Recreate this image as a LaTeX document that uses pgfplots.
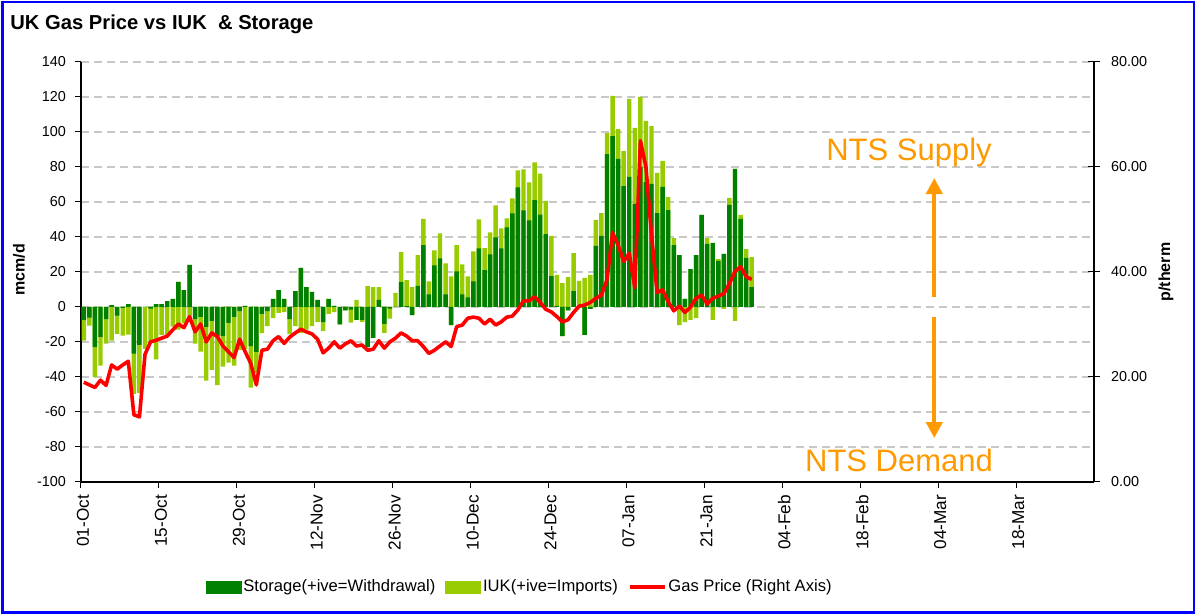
\documentclass[border=0pt]{standalone}
\usepackage{fontspec}
\setmainfont{Liberation Sans}
\usepackage{pgfplots}
\pgfplotsset{compat=1.18}
\usepackage{pgfplotstable}
\usetikzlibrary{arrows.meta}
\definecolor{sgreen}{HTML}{008000}
\definecolor{igreen}{HTML}{99CC00}
\definecolor{nts}{HTML}{FF9900}
\definecolor{framebl}{HTML}{0000FF}
\definecolor{gridc}{HTML}{C8C8C8}

% d = days after 01-Oct, s = storage (mcm/d), i = IUK (mcm/d), p = gas price (p/therm)
\pgfplotstableread{
d s i p
0 -7.4 -11.8 19.0
1 -6.1 -4.6 18.5
2 -22.9 -17.0 18.0
3 -17.1 -16.4 19.4
4 -6.9 -14.1 18.4
5 1.1 -19.2 22.3
6 -5.0 -10.3 21.5
7 -0.5 -15.8 22.3
8 1.7 -15.8 23.0
9 -26.7 -23.0 12.8
10 -21.7 -27.4 12.4
11 0 -24.0 24.3
12 -1.0 -19.0 26.7
13 1.7 -30.0 27.0
14 1.7 -16.0 27.4
15 3.4 -16.6 27.8
16 4.6 -11.2 29.0
17 14.3 -13.0 30.1
18 9.7 -9.3 29.4
19 24.0 -5.5 31.5
20 -7.0 -14.0 28.6
21 -5.7 -19.8 30.1
22 -11.4 -30.7 26.7
23 -8.0 -28.0 28.4
24 -16.6 -28.0 27.7
25 -16.6 -17.5 25.9
26 -9.1 -22.7 24.8
27 -5.7 -27.8 23.7
28 -2.3 -22.3 27.2
29 0.6 -24.0 24.8
30 -22.3 -23.8 22.6
31 -25.7 -12.0 18.5
32 -4.0 -11.0 25.1
33 -2.3 -8.6 25.3
34 4.6 -6.3 26.9
35 9.7 -3.4 27.7
36 4.6 -2.9 26.4
37 -6.9 -8.6 27.6
38 9.1 -10.9 28.4
39 22.3 -15.0 29.1
40 11.4 -13.0 28.6
41 8.6 -10.9 28.2
42 4.0 -8.6 27.2
43 -8.6 -5.1 24.6
44 4.6 -4.0 25.5
45 0.6 -2.9 26.7
46 -10.0 0 25.5
47 -2.0 0 26.3
48 -1.5 -7.5 26.9
49 -7.4 4.0 25.9
50 -7.4 -1.1 26.1
51 -22.9 12.0 25.1
52 -17.7 11.4 25.3
53 4.0 7.4 26.9
54 -9.7 -5.1 25.5
55 -1.0 -5.7 26.7
56 0 8.0 27.4
57 14.3 17.0 28.4
58 0.5 14.9 27.8
59 -4.6 11.4 26.9
60 12.0 17.7 26.9
61 35.4 14.9 25.8
62 7.2 7.4 24.5
63 23.8 8.6 25.1
64 27.8 14.3 25.9
65 7.2 17.7 26.7
66 -10.3 17.5 25.8
67 20.4 14.9 29.6
68 7.2 17.1 29.9
69 5.5 12.0 31.2
70 14.7 17.1 31.4
71 33.5 16.6 31.2
72 21.0 12.6 30.1
73 30.0 12.6 31.0
74 39.8 18.3 29.9
75 33.5 11.4 30.5
76 45.5 5.1 31.4
77 53.5 8.6 31.6
78 68.4 9.7 32.8
79 55.2 23.4 34.5
80 49.5 21.7 34.5
81 61.0 21.7 35.3
82 52.8 23.4 34.2
83 41.7 18.9 32.9
84 17.7 22.9 32.4
85 0.6 17.7 31.5
86 -16.6 13.7 30.5
87 -2.0 17.1 30.9
88 9.1 21.7 32.3
89 0 14.9 33.5
90 -16.0 16.6 33.7
91 -1.1 18.3 34.2
92 34.9 14.9 35.0
93 40.6 13.1 35.6
94 87.4 12.0 38.5
95 97.7 22.9 47.5
96 84.6 17.1 45.1
97 69.1 20.0 42.0
98 74.3 44.6 43.6
99 58.9 43.4 37.0
100 80.0 40.0 65.0
101 71.4 34.9 60.0
102 70.3 33.1 47.0
103 53.7 22.9 36.1
104 68.6 14.9 36.6
105 55.4 7.4 34.3
106 35.4 4.0 32.6
107 29.7 -10.3 33.5
108 4.6 -8.6 32.3
109 21.7 -7.4 33.3
110 29.7 -6.3 35.0
111 52.6 0 35.6
112 36.0 3.4 33.9
113 36.6 -7.4 35.0
114 26.3 1.1 35.4
115 30.3 -1.1 35.9
116 58.3 4.0 37.8
117 78.9 -8.0 40.1
118 50.3 2.3 41.0
119 28.0 5.1 39.1
120 11.4 17.1 38.6
}\gasdata

\begin{document}
\begin{tikzpicture}
\useasboundingbox (0,0) rectangle (599pt,307.5pt);
\draw[framebl, line width=1.1pt] (1.2pt,1.2pt) rectangle (596.8pt,306.3pt);
\node[anchor=west, inner sep=0pt, font=\bfseries\fontsize{10.1}{12}\selectfont] at (5pt,295.5pt) {UK Gas Price vs IUK \ \& Storage};

\begin{axis}[
  at={(40.5pt,66.5pt)}, anchor=south west,
  width=506.5pt, height=210pt, scale only axis,
  xmin=0, xmax=182, ymin=-100, ymax=140,
  axis x line*=bottom, axis y line*=left,
  axis line style={-, line width=0.6pt},
  xtick={0,14,...,168},
  xticklabels={01-Oct,15-Oct,29-Oct,12-Nov,26-Nov,10-Dec,24-Dec,07-Jan,21-Jan,04-Feb,18-Feb,04-Mar,18-Mar},
  ytick={-100,-80,...,140},
  tick align=outside, major tick length=3pt,
  tick style={black, line width=0.5pt},
  ymajorgrids,
  major grid style={gridc, dash pattern=on 4pt off 2.5pt, line width=0.55pt},
  /pgf/number format/assume math mode=true,
  yticklabel style={font=\fontsize{7.2}{8}\selectfont, xshift=-1pt},
  xticklabel style={font=\fontsize{8.6}{9}\selectfont, rotate=90, anchor=east, yshift=-1pt},
  clip=false,
]
\addplot[ybar, bar width=0.8, bar shift=0pt, fill=igreen, draw=none]
  table[x expr=\thisrow{d}+0.5, y expr={max(\thisrow{s},0)+max(\thisrow{i},0)}] {\gasdata};
\addplot[ybar, bar width=0.8, bar shift=0pt, fill=igreen, draw=none]
  table[x expr=\thisrow{d}+0.5, y expr={min(\thisrow{s},0)+min(\thisrow{i},0)}] {\gasdata};
\addplot[ybar, bar width=0.8, bar shift=0pt, fill=sgreen, draw=none]
  table[x expr=\thisrow{d}+0.5, y=s] {\gasdata};
\draw[nts, line width=2pt, -{Triangle[width=8pt,length=8pt]}] (axis cs:153.3,5.9) -- (axis cs:153.3,73.7);
\draw[nts, line width=2pt, -{Triangle[width=8pt,length=8pt]}] (axis cs:153.3,-5.5) -- (axis cs:153.3,-74.9);
\end{axis}

\begin{axis}[
  at={(40.5pt,66.5pt)}, anchor=south west,
  width=506.5pt, height=210pt, scale only axis,
  xmin=0, xmax=182, ymin=0, ymax=80,
  axis x line=none, axis y line*=right,
  axis line style={-, line width=0.6pt},
  ytick={0,20,...,80},
  tick align=center, major tick length=6pt,
  tick style={black, line width=0.5pt},
  /pgf/number format/assume math mode=true,
  yticklabel={\pgfmathprintnumber[fixed,fixed zerofill,precision=2]{\tick}},
  yticklabel style={font=\fontsize{7.2}{8}\selectfont, xshift=2pt},
  legend columns=3,
  legend style={draw=none, fill=none, at={(0.433,-0.25)}, anchor=center,
    font=\fontsize{8.3}{9}\selectfont,
    /tikz/every even column/.append style={column sep=4pt},
    nodes={inner sep=1pt}},
]
\addlegendimage{legend image code/.code={\fill[sgreen] (0pt,-3pt) rectangle (17.5pt,3pt);}}
\addlegendentry{Storage(+ive=Withdrawal)}
\addlegendimage{legend image code/.code={\fill[igreen] (0pt,-3pt) rectangle (17.5pt,3pt);}}
\addlegendentry{IUK(+ive=Imports)}
\addplot[red, line width=1.8pt, line join=round, mark=none,
  legend image code/.code={\draw[red, line width=1.8pt] (0pt,0pt) -- (17.5pt,0pt);}]
  table[x expr=\thisrow{d}+0.5, y=p] {\gasdata};
\addlegendentry{Gas Price (Right Axis)}
\end{axis}

\node[rotate=90, font=\bfseries\fontsize{8}{9}\selectfont] at (9.5pt,172.5pt) {mcm/d};
\node[rotate=90, font=\bfseries\fontsize{8}{9}\selectfont] at (583pt,171.5pt) {p/therm};
\node[nts, font=\fontsize{15.5}{17}\selectfont] at (454.5pt,231.5pt) {NTS Supply};
\node[nts, font=\fontsize{15.5}{17}\selectfont] at (449.5pt,77.5pt) {NTS Demand};
\end{tikzpicture}
\end{document}
